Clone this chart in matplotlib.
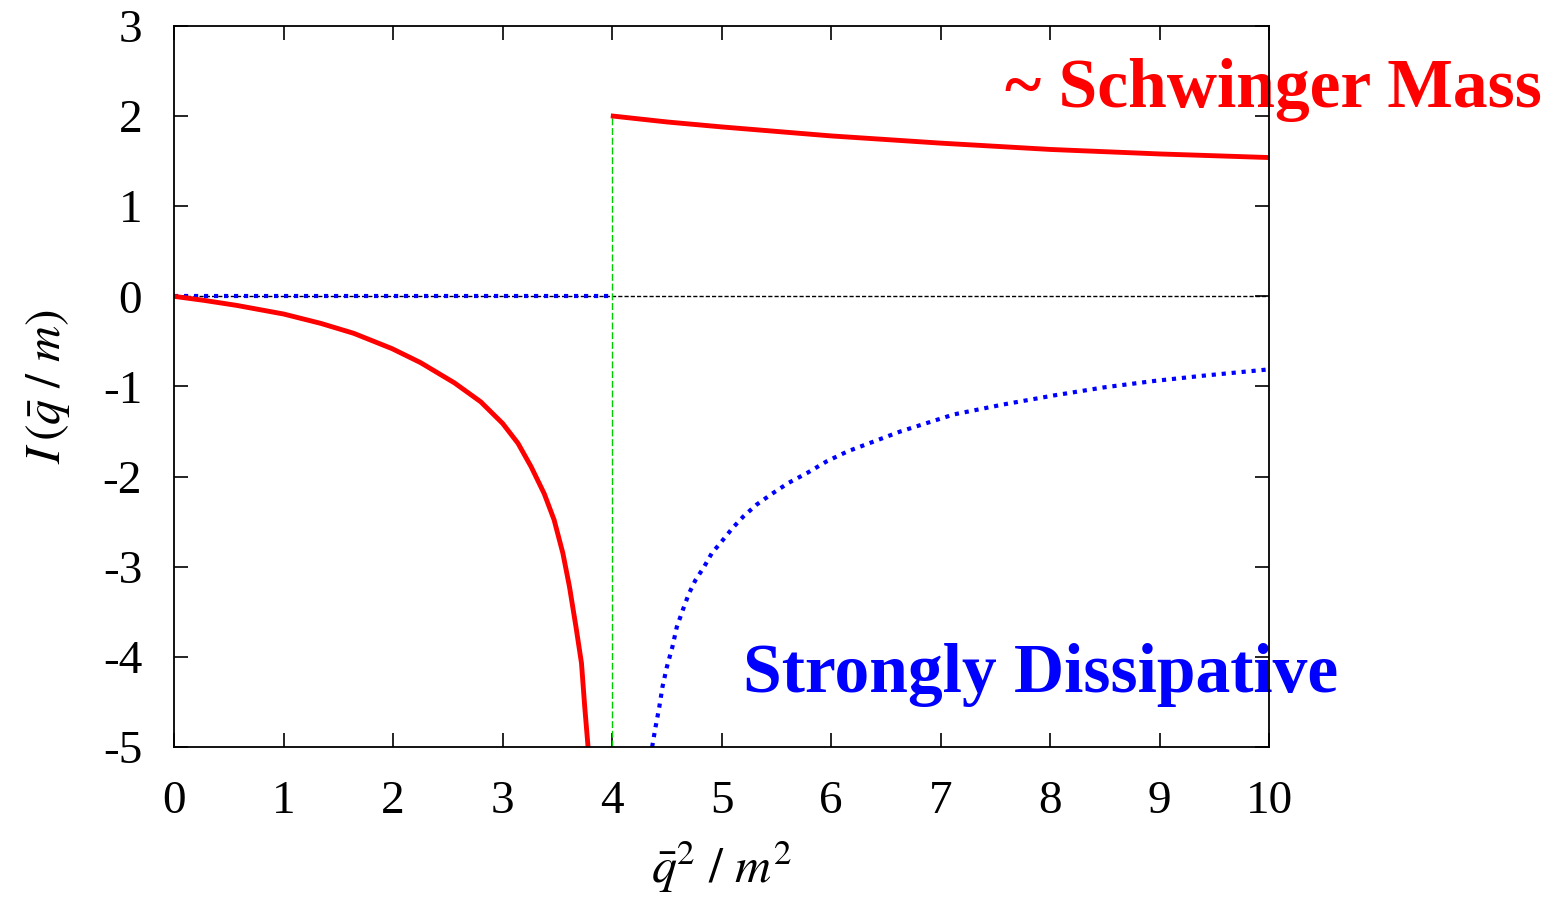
import matplotlib
matplotlib.use("Agg")
import matplotlib.pyplot as plt

plt.rcParams['font.family'] = ['Liberation Serif', 'DejaVu Serif']
plt.rcParams['mathtext.fontset'] = 'stix'
plt.rcParams['axes.unicode_minus'] = False

# values
red_low_x = [0, 0.27, 0.57, 1.0, 1.34, 1.64, 1.99, 2.25, 2.56, 2.80, 3.0, 3.14, 3.26,
             3.38, 3.47, 3.55, 3.61, 3.67, 3.72, 3.75, 3.78]
red_low_y = [0, -0.044, -0.10, -0.196, -0.30, -0.41, -0.58, -0.735, -0.96, -1.17, -1.41,
             -1.63, -1.89, -2.19, -2.48, -2.85, -3.22, -3.67, -4.07, -4.56, -5.0]

red_high_x = [4.01, 4.5, 5, 6, 7, 8, 9, 10]
red_high_y = [2.0, 1.935, 1.88, 1.78, 1.70, 1.63, 1.58, 1.54]

blue_zero_x = [0, 4]
blue_zero_y = [0, 0]

blue_x = [4.365, 4.396, 4.43, 4.46, 4.50, 4.55, 4.59, 4.645, 4.70, 4.76, 4.84, 4.91,
          5.0, 5.10, 5.20, 5.32, 5.46, 5.61, 5.78, 5.96, 6.15, 6.39, 6.63,
          7.12, 7.57, 8.03, 8.49, 8.94, 9.40, 10.0]
blue_y = [-5.0, -4.78, -4.56, -4.33, -4.11, -3.89, -3.67, -3.48, -3.30, -3.15, -3.0, -2.85,
          -2.72, -2.57, -2.44, -2.31, -2.19, -2.07, -1.96, -1.83, -1.72, -1.61, -1.50,
          -1.31, -1.20, -1.10, -1.01, -0.94, -0.88, -0.81]

threshold_x = 4
threshold_top = 2.0

x_ticks = list(range(0, 11))
y_ticks = list(range(-5, 4))

W, H = 1557, 905
fig = plt.figure(figsize=(W / 100, H / 100), dpi=100)
ax = fig.add_axes([0.1118, 0.1746, 0.7034, 0.7967])

# zero line and threshold marker
ax.plot([0, 10], [0, 0], color='black', linewidth=1.0, linestyle=(0, (3, 1.5)))
ax.plot([threshold_x, threshold_x], [-5, threshold_top], color='#00cc00',
        linewidth=1.0, linestyle=(0, (5, 2)))

# curves
ax.plot(blue_zero_x, blue_zero_y, color='blue', linewidth=3, linestyle=(0, (1, 1.4)))
ax.plot(blue_x, blue_y, color='blue', linewidth=3, linestyle=(0, (1, 1.4)))
ax.plot(red_low_x, red_low_y, color='red', linewidth=3.5)
ax.plot(red_high_x, red_high_y, color='red', linewidth=3.5)

ax.set_xlim(0, 10)
ax.set_ylim(-5, 3)
ax.set_xticks(x_ticks)
ax.set_yticks(y_ticks)
ax.tick_params(direction='in', length=10, width=1.2, top=True, right=True, labelsize=34)
ax.tick_params(axis='x', pad=24)
ax.tick_params(axis='y', pad=23)
for s in ax.spines.values():
    s.set_linewidth(1.3)

ax.set_xlabel(r'$\bar{q}^{2}\ /\ m^{2}$', fontsize=36, labelpad=12)
ax.set_ylabel(r'$I\,(\bar{q}\ /\ m)$', fontsize=36, labelpad=22)

# annotations (under the frame, may run past it); positions in pixels from top-left
ax.text(1005 / W, 1 - 90 / H, '~ Schwinger Mass', transform=fig.transFigure, color='red',
        fontsize=50, fontweight='bold', va='center', ha='left', zorder=2, clip_on=False)
ax.text(743 / W, 1 - 675 / H, 'Strongly Dissipative', transform=fig.transFigure, color='blue',
        fontsize=50, fontweight='bold', va='center', ha='left', zorder=2, clip_on=False)

fig.savefig('out.png', dpi=100)
